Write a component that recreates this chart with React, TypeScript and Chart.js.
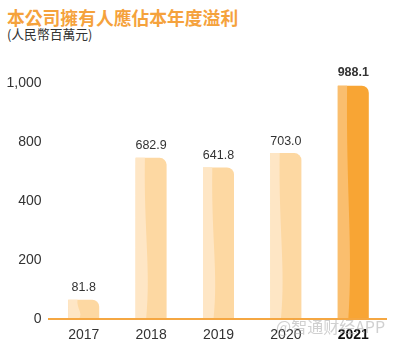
import React, { useEffect, useRef } from "react";
import { Chart, registerables } from "chart.js";
Chart.register(...registerables);

const titleText = "本公司擁有人應佔本年度溢利";
const subtitleText = "(人民幣百萬元)";
const categories = ["2017", "2018", "2019", "2020", "2021"];
const profits = [81.8, 682.9, 641.8, 703.0, 988.1];
const valueLabels = ["81.8", "682.9", "641.8", "703.0", "988.1"];
const yTickValues = [0, 250, 500, 750, 1000];
const yTickLabels = ["0", "200", "400", "800", "1,000"];
const highlightIndex = 4;
const watermark = "@智通财经APP";

const FONT = "'Liberation Sans', Arial, sans-serif";
const barMain = ["#FDD8A2", "#FDD8A2", "#FDD8A2", "#FDD8A2", "#F8A534"];
const barStripe = ["#FEE6C5", "#FEE6C5", "#FEE6C5", "#FEE6C5", "#FABE6E"];

const decorPlugin = {
  id: "decor",
  afterDatasetsDraw(chart: any) {
    const ctx = chart.ctx;
    const meta = chart.getDatasetMeta(0);
    meta.data.forEach((bar: any, i: number) => {
      const { x, y, base, width } = bar.getProps(["x", "y", "base", "width"], true);
      const left = x - width / 2;
      const h = base - y;
      ctx.save();
      ctx.fillStyle = barStripe[i];
      ctx.beginPath();
      ctx.moveTo(left, y);
      ctx.lineTo(left + width * 0.3, y);
      ctx.bezierCurveTo(
        left + width * 0.26, y + h * 0.45,
        left + width * 0.5, y + h * 0.7,
        left + width * 0.34, base
      );
      ctx.lineTo(left, base);
      ctx.closePath();
      ctx.fill();
      ctx.restore();
    });
  },
  afterDraw(chart: any) {
    const ctx = chart.ctx;
    const ys = chart.scales.y;
    const area = chart.chartArea;
    const meta = chart.getDatasetMeta(0);
    ctx.save();
    // axis line
    ctx.strokeStyle = "#F5A742";
    ctx.lineWidth = 2;
    const y0 = ys.getPixelForValue(0);
    ctx.beginPath();
    ctx.moveTo(area.left - 2, y0);
    ctx.lineTo(area.right, y0);
    ctx.stroke();
    // y tick labels
    ctx.fillStyle = "#333";
    ctx.font = `14px ${FONT}`;
    ctx.textAlign = "right";
    ctx.textBaseline = "middle";
    yTickValues.forEach((v, i) => {
      ctx.fillText(yTickLabels[i], 41.5, ys.getPixelForValue(v));
    });
    // value labels and x labels
    ctx.textAlign = "center";
    meta.data.forEach((bar: any, i: number) => {
      const { x, y } = bar.getProps(["x", "y"], true);
      const bold = i === highlightIndex;
      ctx.fillStyle = "#333";
      ctx.font = `${bold ? "bold " : ""}12.5px ${FONT}`;
      ctx.fillText(valueLabels[i], x, y - (bold ? 13 : 12));
      ctx.fillStyle = bold ? "#111" : "#333";
      ctx.font = `${bold ? "bold " : ""}14px ${FONT}`;
      ctx.fillText(categories[i], x, y0 + 16);
    });
    // watermark
    ctx.fillStyle = "rgba(170,170,170,0.55)";
    ctx.font = `16px 'Noto Sans CJK SC', ${FONT}`;
    ctx.textAlign = "left";
    ctx.fillText(watermark, 276, 327);
    ctx.restore();
  },
};

export default function App() {
  const ref = useRef<HTMLCanvasElement | null>(null);
  useEffect(() => {
    if (!ref.current) return;
    const chart = new Chart(ref.current, {
      type: "bar",
      data: {
        labels: categories,
        datasets: [
          {
            data: profits,
            backgroundColor: barMain,
            borderWidth: 0,
            borderRadius: { topLeft: 0, topRight: 7, bottomLeft: 0, bottomRight: 0 },
            borderSkipped: false,
            barPercentage: 0.46,
            categoryPercentage: 1,
          },
        ],
      },
      options: {
        animation: false,
        responsive: false,
        maintainAspectRatio: false,
        layout: { padding: { left: 50, right: 7, top: 83, bottom: 32 } },
        plugins: { legend: { display: false }, tooltip: { enabled: false }, title: { display: false } },
        scales: {
          x: { type: "category", display: false, offset: true },
          y: { type: "linear", display: false, min: 0, max: 1000 },
        },
      },
      plugins: [decorPlugin],
    });
    return () => chart.destroy();
  }, []);
  return (
    <div style={{ position: "fixed", left: 0, top: 0, width: 394, height: 351, background: "#fff" }}>
      <div
        style={{
          position: "absolute",
          left: 7,
          top: 7,
          fontFamily: "'Noto Sans CJK TC', sans-serif",
          fontWeight: 700,
          fontSize: 17.8,
          lineHeight: "20px",
          color: "#F5A23C",
          whiteSpace: "nowrap",
        }}
      >
        {titleText}
      </div>
      <div
        style={{
          position: "absolute",
          left: 7,
          top: 26,
          fontFamily: "'Noto Sans CJK TC', sans-serif",
          fontSize: 12.8,
          lineHeight: "16px",
          color: "#333",
          whiteSpace: "nowrap",
        }}
      >
        {subtitleText}
      </div>
      <canvas ref={ref} width={394} height={351} style={{ position: "absolute", left: 0, top: 0 }} />
    </div>
  );
}
